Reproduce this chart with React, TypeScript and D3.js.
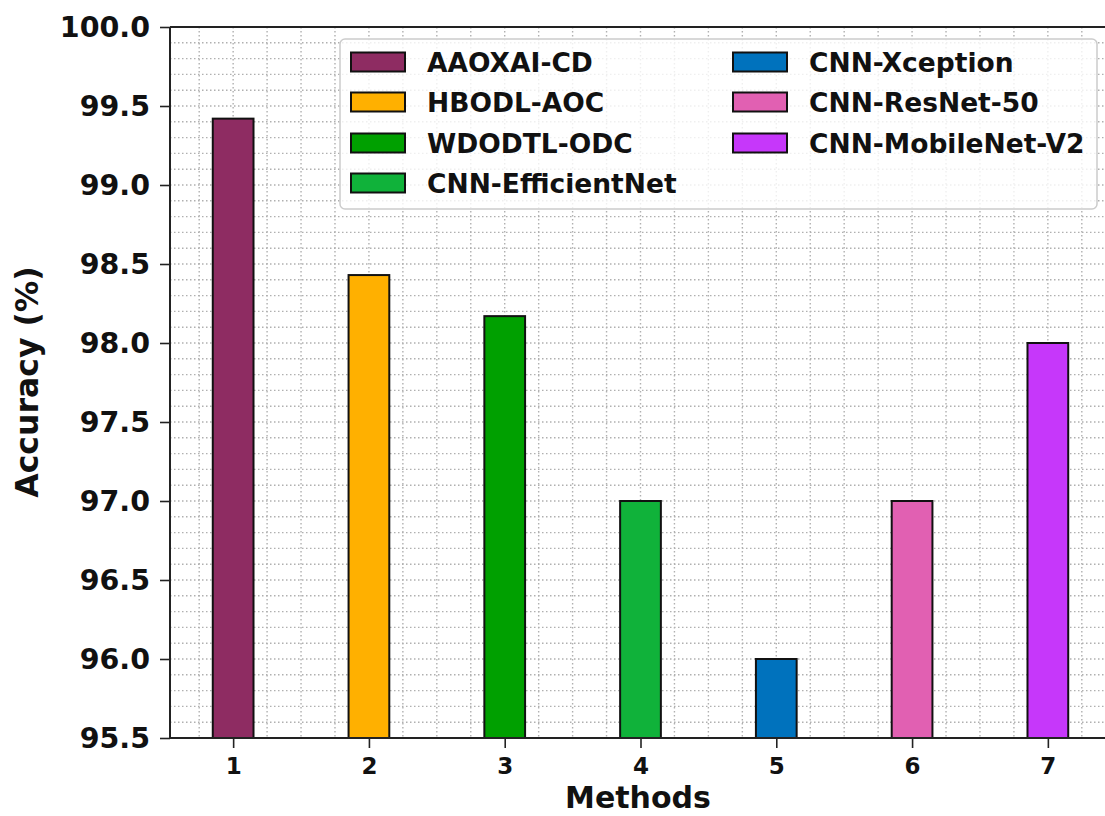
import { useEffect, useRef } from "react";
import * as d3 from "d3";

const methodIds = [1, 2, 3, 4, 5, 6, 7];
const methodNames = [
  "AAOXAI-CD",
  "HBODL-AOC",
  "WDODTL-ODC",
  "CNN-EfficientNet",
  "CNN-Xception",
  "CNN-ResNet-50",
  "CNN-MobileNet-V2",
];
const accuracy = [99.42, 98.43, 98.17, 97.0, 96.0, 97.0, 98.0];
const barColors = ["#8e2c62", "#ffb000", "#00a000", "#10b23a", "#0072bd", "#e160b2", "#c637fa"];
const yTicks = [95.5, 96.0, 96.5, 97.0, 97.5, 98.0, 98.5, 99.0, 99.5, 100.0];

const W = 1105;
const H = 816;
const FONT = "'DejaVu Sans', sans-serif";

export default function App() {
  const ref = useRef<SVGSVGElement>(null);

  useEffect(() => {
    const svg = d3.select(ref.current);
    svg.selectAll("*").remove();

    const left = 170;
    const top = 27;
    const bottom = 738;

    // xlim like matplotlib's default margin around the bars (right side is cut off by the image)
    const xScale = d3.scaleLinear().domain([0.535, 7.465]).range([left, 1111]);
    const yScale = d3.scaleLinear().domain([95.5, 100]).range([bottom, top]);

    // grid
    const grid = svg.append("g");
    const yMinor = d3.range(955, 1001, 1).map((v) => v / 10);
    grid.selectAll("line.h")
      .data(yMinor)
      .enter()
      .append("line")
      .attr("x1", left)
      .attr("x2", W)
      .attr("y1", (d) => yScale(d))
      .attr("y2", (d) => yScale(d))
      .attr("stroke", "#b0b0b0")
      .attr("stroke-width", 1.4)
      .attr("stroke-dasharray", "1.5,2.5");
    const xMinor = d3.range(3, 30, 1).map((v) => v / 4);
    grid.selectAll("line.v")
      .data(xMinor)
      .enter()
      .append("line")
      .attr("x1", (d) => xScale(d))
      .attr("x2", (d) => xScale(d))
      .attr("y1", top)
      .attr("y2", bottom)
      .attr("stroke", "#b0b0b0")
      .attr("stroke-width", 1.4)
      .attr("stroke-dasharray", "1.5,2.5");

    // bars
    const barW = xScale(0.3) - xScale(0);
    svg.append("g")
      .selectAll("rect")
      .data(methodIds)
      .enter()
      .append("rect")
      .attr("x", (d) => xScale(d) - barW / 2)
      .attr("y", (d, i) => yScale(accuracy[i]))
      .attr("width", barW)
      .attr("height", (d, i) => bottom - yScale(accuracy[i]))
      .attr("fill", (d, i) => barColors[i])
      .attr("stroke", "#111")
      .attr("stroke-width", 2);

    // y axis
    const yAxis = svg.append("g").attr("transform", `translate(${left},0)`);
    yAxis.call(
      d3.axisLeft(yScale).tickValues(yMinor).tickSize(5).tickFormat(() => "")
    );
    yAxis.call(
      d3.axisLeft(yScale).tickValues(yTicks).tickSize(10).tickPadding(10).tickFormat(d3.format(".1f"))
    );
    yAxis.selectAll(".domain").remove();
    yAxis.selectAll("line").attr("stroke", "#222").attr("stroke-width", 1.6);
    yAxis.selectAll("text")
      .attr("font-family", FONT)
      .attr("font-weight", "bold")
      .attr("font-size", 28.5)
      .attr("fill", "#111");

    // x axis
    const xAxis = svg.append("g").attr("transform", `translate(0,${bottom})`);
    xAxis.call(
      d3.axisBottom(xScale).tickValues(xMinor).tickSize(5).tickFormat(() => "")
    );
    xAxis.call(
      d3.axisBottom(xScale).tickValues(methodIds).tickSize(10).tickPadding(10).tickFormat(d3.format("d"))
    );
    xAxis.selectAll(".domain").remove();
    xAxis.selectAll("line").attr("stroke", "#222").attr("stroke-width", 1.6);
    xAxis.selectAll("text")
      .attr("font-family", FONT)
      .attr("font-weight", "bold")
      .attr("font-size", 23)
      .attr("fill", "#111");

    // spines
    svg.append("line")
      .attr("x1", left).attr("x2", W).attr("y1", top).attr("y2", top)
      .attr("stroke", "#222").attr("stroke-width", 2);
    svg.append("line")
      .attr("x1", left).attr("x2", W).attr("y1", bottom).attr("y2", bottom)
      .attr("stroke", "#222").attr("stroke-width", 2);
    svg.append("line")
      .attr("x1", left).attr("x2", left).attr("y1", top).attr("y2", bottom)
      .attr("stroke", "#222").attr("stroke-width", 2);

    // axis labels
    svg.append("text")
      .attr("x", 638)
      .attr("y", 808)
      .attr("text-anchor", "middle")
      .attr("font-family", FONT)
      .attr("font-weight", "bold")
      .attr("font-size", 30)
      .attr("fill", "#111")
      .text("Methods");
    svg.append("text")
      .attr("transform", "rotate(-90)")
      .attr("x", -382)
      .attr("y", 38)
      .attr("text-anchor", "middle")
      .attr("font-family", FONT)
      .attr("font-weight", "bold")
      .attr("font-size", 31.5)
      .attr("fill", "#111")
      .text("Accuracy (%)");

    // legend
    const legend = svg.append("g");
    legend.append("rect")
      .attr("x", 340)
      .attr("y", 39)
      .attr("width", 757)
      .attr("height", 170)
      .attr("rx", 5)
      .attr("fill", "white")
      .attr("fill-opacity", 0.8)
      .attr("stroke", "#cccccc")
      .attr("stroke-width", 1.5);
    const colX = [351, 733];
    const rowY = [62, 102, 143, 183];
    methodNames.forEach((name, i) => {
      const col = i < 4 ? 0 : 1;
      const row = i < 4 ? i : i - 4;
      const g = legend.append("g").attr("transform", `translate(${colX[col]},${rowY[row]})`);
      g.append("rect")
        .attr("x", 0)
        .attr("y", -9.5)
        .attr("width", 54)
        .attr("height", 19)
        .attr("fill", barColors[i])
        .attr("stroke", "#111")
        .attr("stroke-width", 2);
      g.append("text")
        .attr("x", 76)
        .attr("y", 9.5)
        .attr("font-family", FONT)
        .attr("font-weight", "bold")
        .attr("font-size", 26.5)
        .attr("fill", "#111")
        .text(name);
    });
  }, []);

  return (
    <svg
      ref={ref}
      width={W}
      height={H}
      style={{ position: "absolute", left: 0, top: 0, background: "white" }}
    />
  );
}
